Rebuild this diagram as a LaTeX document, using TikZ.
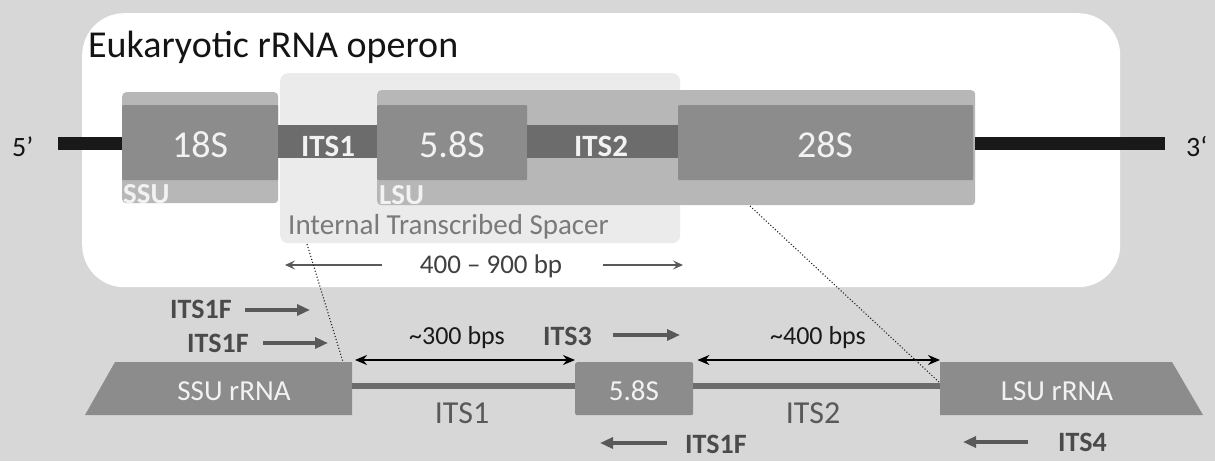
\documentclass[tikz,border=0pt]{standalone}
\usepackage{fontspec}
\setmainfont{Carlito}
\usetikzlibrary{arrows.meta}
\definecolor{bgc}{HTML}{D7D7D7}
\definecolor{outerc}{HTML}{B7B7B7}
\definecolor{innerc}{HTML}{8C8C8C}
\definecolor{bandc}{HTML}{6C6C6C}
\definecolor{itsc}{HTML}{EBEBEB}
\definecolor{boxtxt}{HTML}{F2F2F2}
\definecolor{primc}{HTML}{595959}
\definecolor{primtxt}{HTML}{4A4A4A}
\definecolor{spctxt}{HTML}{7A7A7A}
\tikzset{
  rect/.style={inner sep=0pt, anchor=north west, draw=none},
  lbl/.style={inner sep=0pt, anchor=base},
  lblw/.style={inner sep=0pt, anchor=base west},
  dna/.style={line width=13pt, black!90},
  itsline/.style={line width=6pt, bandc},
  primer/.style={primc, line width=3.5pt, -{Triangle[length=13pt,width=11pt]}},
  thinarr/.style={primc, line width=1.6pt, -{Stealth[length=10pt,width=9pt,inset=4pt]}},
  dbl/.style={black, line width=1.8pt, {Stealth[length=12pt,width=10pt]}-{Stealth[length=12pt,width=10pt]}},
  dots/.style={black!85, line width=1.1pt, dotted},
  bigtxt/.style={font=\fontsize{38}{40}\selectfont, text=boxtxt},
  bandtxt/.style={font=\bfseries\fontsize{31}{33}\selectfont, text=boxtxt},
  subtxt/.style={font=\bfseries\fontsize{29}{31}\selectfont, text=boxtxt},
  primtext/.style={font=\bfseries\fontsize{28}{30}\selectfont, text=primtxt},
  bpstxt/.style={font=\fontsize{26}{28}\selectfont, text=black!90},
  rnatxt/.style={font=\fontsize{29}{31}\selectfont, text=boxtxt},
  itslbl/.style={font=\fontsize{32}{34}\selectfont, text=black!65}
}
\begin{document}
\begin{tikzpicture}[x=1pt,y=-1pt]
\fill[bgc] (0,0) rectangle (1215,461);
\useasboundingbox (0,0) rectangle (1215,461);
% operon panel
\node[rect, fill=white, rounded corners=42pt, minimum width=1038pt, minimum height=274pt] (panel) at (82,13) {};
\node[lblw, font=\fontsize{38}{40}\selectfont, text=black!92] (title) at (88,57) {Eukaryotic rRNA operon};
\node[rect, fill=itsc, rounded corners=8pt, minimum width=400pt, minimum height=170pt] (its) at (280,73) {};
\node[rect, fill=outerc, rounded corners=4pt, minimum width=156pt, minimum height=111pt] (ssu) at (122,92) {};
\node[rect, fill=outerc, rounded corners=4pt, minimum width=598pt, minimum height=115pt] (lsu) at (377,90) {};
\node[rect, fill=innerc, rounded corners=1pt, minimum width=156pt, minimum height=75pt] (s18) at (122,105) {};
\node[rect, fill=bandc, minimum width=99pt, minimum height=33pt] (its1b) at (278,125) {};
\node[rect, fill=innerc, rounded corners=1pt, minimum width=150pt, minimum height=75pt] (s58) at (377,105) {};
\node[rect, fill=bandc, minimum width=151pt, minimum height=33pt] (its2b) at (527,125) {};
\node[rect, fill=innerc, rounded corners=1pt, minimum width=295pt, minimum height=75pt] (s28) at (678,105) {};
\coordinate (l5) at (58,143.5);
\coordinate (l3) at (1165,143.5);
\draw[dna] (l5) -- (l5 -| ssu.west);
\draw[dna] (l3 -| lsu.east) -- (l3);
\node[lblw, font=\fontsize{28}{30}\selectfont, text=black!92] (five) at (12,156) {5’};
\node[lblw, font=\fontsize{28}{30}\selectfont, text=black!92] (three) at (1186,156) {3‘};
\node[lbl, bigtxt] (t18) at (200,157) {18S};
\node[lbl, bandtxt] (tits1) at (328,156) {ITS1};
\node[lbl, bigtxt] (t58) at (452,157) {5.8S};
\node[lbl, bandtxt] (tits2) at (601,156) {ITS2};
\node[lbl, bigtxt] (t28) at (825,157) {28S};
\begin{scope}
\clip (ssu.south west) rectangle (lsu.north east);
\node[lblw, subtxt] (tssu) at (123,203) {SSU};
\node[lblw, subtxt] (tlsu) at (379,204) {LSU};
\end{scope}
\node[lblw, font=\fontsize{29}{31}\selectfont, text=spctxt] (tspc) at (288,234) {Internal Transcribed Spacer};
\node[lbl, font=\fontsize{27}{29}\selectfont, text=black!75] (bp) at (491,273) {400 – 900 bp};
\coordinate (bpa1) at (382,265); \coordinate (bpa2) at (285,265);
\coordinate (bpb1) at (603,265); \coordinate (bpb2) at (683,265);
\draw[thinarr] (bpa1) -- (bpa2);
\draw[thinarr] (bpb1) -- (bpb2);
% amplicon
\coordinate (ssuTL) at (115,362); \coordinate (ssuTR) at (352,362);
\coordinate (ssuBR) at (352,415); \coordinate (ssuBL) at (85,415);
\fill[innerc] (ssuTL) -- (ssuTR) -- (ssuBR) -- (ssuBL) -- cycle;
\coordinate (lsuTL) at (940,362); \coordinate (lsuTR) at (1172,362);
\coordinate (lsuBR) at (1203,415); \coordinate (lsuBL) at (940,415);
\fill[innerc] (lsuTL) -- (lsuTR) -- (lsuBR) -- (lsuBL) -- cycle;
\node[rect, fill=innerc, rounded corners=2pt, minimum width=118pt, minimum height=53pt] (b58) at (575,362) {};
\coordinate (ssuE) at (352,386); \coordinate (lsuW) at (940,386);
\draw[itsline] (ssuE) -- (ssuE -| b58.west);
\draw[itsline] (lsuW -| b58.east) -- (lsuW);
\node[lbl, rnatxt] (tssur) at (234,400) {SSU rRNA};
\node[lbl, rnatxt] (tb58) at (634,400) {5.8S};
\node[lbl, rnatxt] (tlsur) at (1057,400) {LSU rRNA};
\coordinate (a3l) at (355,360); \coordinate (a4r) at (940,360);
\draw[dbl] (a3l) -- ([yshift=2pt]b58.north west);
\draw[dbl] ([yshift=2pt,xshift=4pt]b58.north east) -- (a4r);
\node[lbl, bpstxt] (t300) at (457,344) {\textasciitilde300 bps};
\node[lbl, bpstxt] (t400) at (818,344) {\textasciitilde400 bps};
\node[lbl, itslbl] (lits1) at (462,423) {ITS1};
\node[lbl, itslbl] (lits2) at (813,423) {ITS2};
% dotted guides
\coordinate (d1a) at (307,244); \coordinate (d1b) at (343,362);
\coordinate (d2a) at (750,206); \coordinate (d2b) at (940,383);
\draw[dots] (d1a) -- (d1b);
\draw[dots] (d2a) -- (d2b);
% primers
\node[lblw, primtext] (p1) at (170,318) {ITS1F};
\coordinate (p1a) at (245,310); \coordinate (p1b) at (310,310);
\draw[primer] (p1a) -- (p1b);
\node[lblw, primtext] (p2) at (187,352) {ITS1F};
\coordinate (p2a) at (263,343); \coordinate (p2b) at (328,343);
\draw[primer] (p2a) -- (p2b);
\node[lblw, primtext] (p3) at (543,345) {ITS3};
\coordinate (p3a) at (613,335); \coordinate (p3b) at (680,335);
\draw[primer] (p3a) -- (p3b);
\node[lblw, primtext] (p4) at (685,453) {ITS1F};
\coordinate (p4a) at (667,443); \coordinate (p4b) at (600,443);
\draw[primer] (p4a) -- (p4b);
\node[lblw, primtext] (p5) at (1058,451) {ITS4};
\coordinate (p5a) at (1028,442); \coordinate (p5b) at (963,442);
\draw[primer] (p5a) -- (p5b);
\end{tikzpicture}
\end{document}
